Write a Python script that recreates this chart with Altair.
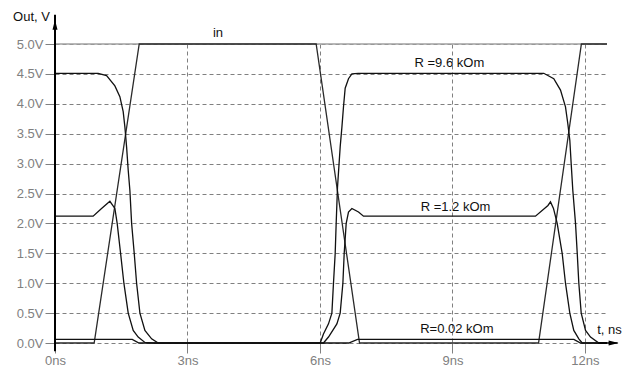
import altair as alt
import pandas as pd

# ---- data ----
IN_T = [0, 0.887, 1.907, 5.914, 6.896, 10.95, 11.92, 12.5]
IN_V = [0, 0, 5, 5, 0, 0, 5, 5]

R96_T = [0, 0.977, 1.168, 1.356, 1.469, 1.544, 1.583, 1.621, 1.658, 1.696, 1.735, 1.794, 1.848, 1.923, 2.036, 2.188, 2.338,
         6.005, 6.079, 6.193, 6.270, 6.306, 6.345, 6.367, 6.397, 6.458, 6.497, 6.533, 6.571, 6.646, 6.723, 6.866,
         11.068, 11.295, 11.447, 11.560, 11.612, 11.658, 11.689, 11.726, 11.787, 11.826, 11.862, 11.916, 12.014, 12.127, 12.315, 12.5]
R96_V = [4.51, 4.51, 4.47, 4.30, 4.12, 3.87, 3.61, 3.28, 2.89, 2.55, 2.0, 1.5, 1.0, 0.5, 0.21, 0.07, 0.0,
         0.0, 0.15, 0.32, 0.5, 1.0, 1.5, 2.0, 2.6, 3.28, 3.61, 3.95, 4.26, 4.42, 4.5, 4.51,
         4.51, 4.42, 4.23, 3.95, 3.67, 3.39, 3.0, 2.55, 2.0, 1.5, 1.0, 0.5, 0.21, 0.1, 0.0, 0.0]

R12_T = [0, 0.864, 1.054, 1.243, 1.356, 1.408, 1.485, 1.560, 1.658, 1.771, 1.884, 2.036, 2.2,
         6.079, 6.193, 6.383, 6.458, 6.519, 6.549, 6.594, 6.646, 6.723, 6.873, 6.986,
         10.880, 11.163, 11.220, 11.288, 11.372, 11.485, 11.560, 11.658, 11.748, 11.862, 11.939, 12.5]
R12_V = [2.12, 2.12, 2.25, 2.37, 2.25, 2.0, 1.5, 1.0, 0.5, 0.21, 0.1, 0.01, 0.0,
         0.0, 0.1, 0.32, 0.5, 1.0, 1.5, 2.0, 2.19, 2.25, 2.19, 2.12,
         2.12, 2.30, 2.36, 2.25, 2.0, 1.5, 1.0, 0.5, 0.21, 0.07, 0.0, 0.0]

R002_T = [0, 1.75, 1.9, 6.65, 6.85, 11.75, 11.9, 12.5]
R002_V = [0.06, 0.06, 0, 0, 0.06, 0.06, 0, 0]

SERIES = ["in", "R=9.6", "R=1.2", "R=0.02"]
SERIES_COLORS = ["#2a2a2a", "#111111", "#111111", "#111111"]

LABEL_TEXT = ["in", "R =9.6 kOm", "R =1.2 kOm", "R=0.02 kOm"]
LABEL_T = [3.69, 8.93, 9.07, 9.10]
LABEL_V = [5.18, 4.69, 2.27, 0.226]

X_TICKS = [0, 3, 6, 9, 12]
Y_TICKS = [0, 0.5, 1, 1.5, 2, 2.5, 3, 3.5, 4, 4.5, 5]
T_MAX = 12.5
V_MAX = 5

rows = []
for name, ts, vs in [("in", IN_T, IN_V), ("R=9.6", R96_T, R96_V),
                     ("R=1.2", R12_T, R12_V), ("R=0.02", R002_T, R002_V)]:
    for i, (t, v) in enumerate(zip(ts, vs)):
        rows.append({"series": name, "t": t, "v": v, "i": i})
df = pd.DataFrame(rows)

lab = pd.DataFrame({"text": LABEL_TEXT, "t": LABEL_T, "v": LABEL_V})

FONT = "Liberation Sans"
GRAY = "#808080"

xscale = alt.Scale(domain=[0, T_MAX], nice=False, zero=False)
yscale = alt.Scale(domain=[0, V_MAX], nice=False, zero=False)

xaxis = alt.Axis(values=X_TICKS, labelExpr="datum.value + 'ns'", grid=True,
                 gridDash=[4, 3], gridColor=GRAY, gridWidth=1, domain=False,
                 tickColor=GRAY, tickSize=10, labelColor=GRAY, labelFont=FONT,
                 labelFontSize=13, labelPadding=1, labelOverlap=False,
                 labelFlush=False, title="t, ns",
                 titleFont=FONT, titleFontSize=13, titleFontWeight="normal",
                 titleColor="#111111", titleX=554, titleY=-14,
                 titleAlign="center", titleBaseline="middle")
yaxis = alt.Axis(values=Y_TICKS, labelExpr="format(datum.value, '.1f') + 'V'",
                 grid=True, gridDash=[4, 3], gridColor=GRAY, gridWidth=1,
                 domain=False, tickColor=GRAY, tickSize=10, labelColor=GRAY,
                 labelFont=FONT, labelFontSize=13, labelPadding=2,
                 labelOverlap=False, labelFlush=False,
                 title="Out, V", titleFont=FONT, titleFontSize=13,
                 titleFontWeight="normal", titleColor="#111111", titleAngle=0,
                 titleX=-24, titleY=-28, titleAlign="center",
                 titleBaseline="middle")


def X(field):
    return alt.X(field, type="quantitative", scale=xscale, axis=xaxis)


def Y(field):
    return alt.Y(field, type="quantitative", scale=yscale, axis=yaxis)


top_line = alt.Chart(pd.DataFrame({"v": [V_MAX], "t0": [0], "t1": [T_MAX]})).mark_rule(
    color="#a0a0a0", strokeWidth=1.5).encode(x=X("t0"), x2="t1:Q", y=Y("v"))

lines = alt.Chart(df).mark_line(strokeWidth=1.3, interpolate="linear").encode(
    x=X("t"),
    y=Y("v"),
    color=alt.Color("series:N", scale=alt.Scale(domain=SERIES, range=SERIES_COLORS), legend=None),
    order="i:Q",
)

# axis lines with arrows
Y_AXIS = pd.DataFrame({"t": [0], "v0": [-0.14], "v1": [5.49]})
yline = alt.Chart(Y_AXIS).mark_rule(color="#000000", strokeWidth=2).encode(
    x=X("t"), y=Y("v0"), y2="v1:Q")
yarrow = alt.Chart(pd.DataFrame({"t": [0], "v": [5.32]})).mark_point(
    shape="M0,-1L0.5,1L-0.5,1Z", size=100, filled=True, color="#000000", opacity=1).encode(
    x=X("t"), y=Y("v"))

X_AXIS = pd.DataFrame({"v": [0], "t0": [12.3], "t1": [12.74]})
xline = alt.Chart(X_AXIS).mark_rule(color="#000000", strokeWidth=1.5).encode(
    y=Y("v"), x=X("t0"), x2="t1:Q")
xarrow = alt.Chart(pd.DataFrame({"t": [12.65], "v": [0]})).mark_point(
    shape="M1,0L-1,-0.5L-1,0.5Z", size=100, filled=True, color="#000000", opacity=1).encode(
    x=X("t"), y=Y("v"))

texts = alt.Chart(lab).mark_text(font=FONT, fontSize=13, color="#111111",
                                 align="center", baseline="middle").encode(
    x=X("t"), y=Y("v"), text="text:N")

chart = alt.layer(top_line, lines, yline, yarrow, xline, xarrow, texts).properties(
    width=552, height=299,
    autosize=alt.AutoSizeParams(type="none"),
    padding={"left": 55, "top": 44, "right": 18, "bottom": 28},
    background="#ffffff",
).configure_view(stroke=None)

chart.save("out.html", embed_options={"renderer": "svg", "actions": False})
